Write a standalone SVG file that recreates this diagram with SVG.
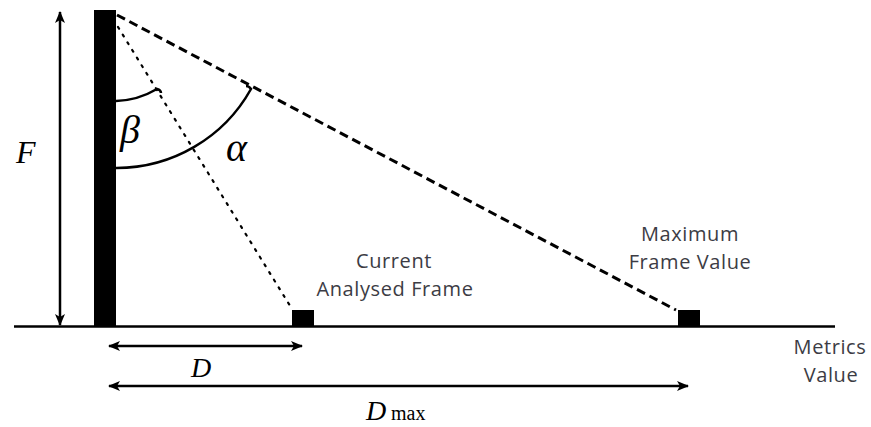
<svg xmlns="http://www.w3.org/2000/svg" width="871" height="427" viewBox="0 0 871 427">
<defs>
<marker id="ah" viewBox="0 0 12 10" refX="11" refY="5" markerWidth="12" markerHeight="10" markerUnits="userSpaceOnUse" orient="auto-start-reverse">
<path d="M0,0 L12,5 L0,10 L3,5 Z" fill="#000"/>
</marker>
<style>
.ln{stroke:#000;fill:none;stroke-width:2.5}
.lbl{font-family:"Open Sans","Lato",sans-serif;font-size:20px;letter-spacing:0.6px;fill:#3c3c44}
.math{font-family:"Liberation Serif","DejaVu Serif",serif;font-style:italic;fill:#000}
</style>
</defs>
<rect width="871" height="427" fill="#fff"/>
<g id="baseline"><line class="ln" x1="14" y1="326.5" x2="835" y2="326.5" stroke-width="3"/></g>
<g id="pole"><rect x="94" y="10" width="22" height="317" fill="#000"/></g>
<g id="current-frame"><rect x="292" y="310" width="22" height="17" fill="#000"/>
<text class="lbl" x="394" y="268" text-anchor="middle">Current</text>
<text class="lbl" x="395" y="296" text-anchor="middle">Analysed Frame</text></g>
<g id="max-frame"><rect x="678" y="310" width="22" height="17" fill="#000"/>
<text class="lbl" x="690" y="241" text-anchor="middle">Maximum</text>
<text class="lbl" x="690" y="269" text-anchor="middle">Frame Value</text></g>
<g id="metrics"><text class="lbl" x="830" y="354" text-anchor="middle">Metrics</text>
<text class="lbl" x="831" y="382" text-anchor="middle">Value</text></g>
<g id="connectors">
<line class="ln" x1="60" y1="12" x2="60" y2="325" marker-start="url(#ah)" marker-end="url(#ah)"/>
<line class="ln" x1="109" y1="346" x2="302" y2="346" marker-start="url(#ah)" marker-end="url(#ah)"/>
<line class="ln" x1="109" y1="386" x2="688" y2="386" marker-start="url(#ah)" marker-end="url(#ah)"/>
<line x1="117" y1="15" x2="676" y2="310" stroke="#000" stroke-width="3" stroke-dasharray="9 5"/>
<line x1="118" y1="27" x2="292" y2="309" stroke="#000" stroke-width="2.2" stroke-dasharray="2 7" stroke-linecap="round"/>
<path class="ln" d="M116,101 A86,86 0 0 0 157,89 Q161,90 161,93"/>
<path class="ln" d="M116,168 A154,154 0 0 0 251,89 Q249,86 246,86"/>
</g>
<g id="labels">
<text class="math" x="16" y="163" font-size="32">F</text>
<text class="math" x="120" y="143" font-size="40">β</text>
<text class="math" x="226" y="161" font-size="40">α</text>
<text class="math" x="191" y="377" font-size="28">D</text>
<text class="math" x="366" y="420" font-size="28">D</text>
<text x="391" y="420" font-family="Liberation Serif,serif" font-size="20" fill="#000">max</text>
</g>
</svg>
